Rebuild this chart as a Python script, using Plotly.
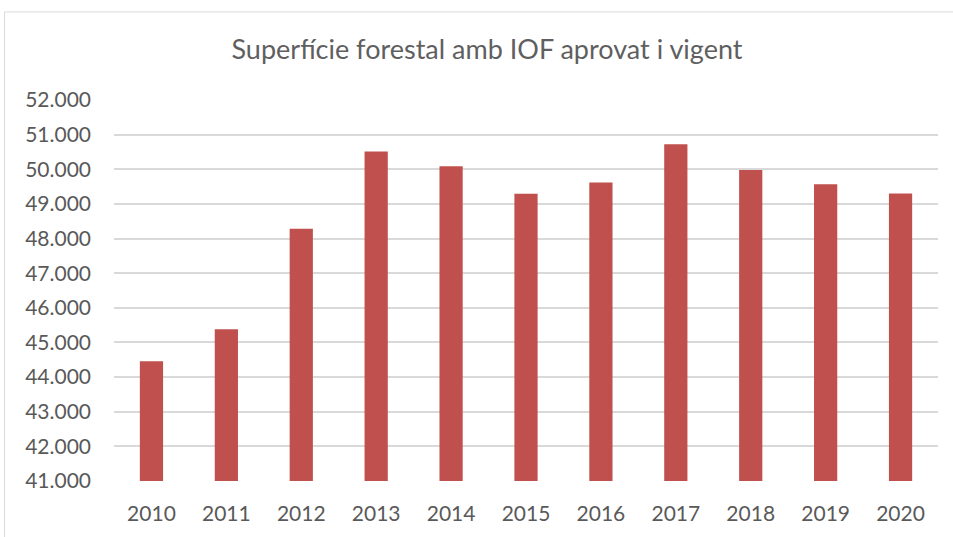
import plotly.graph_objects as go

years = ["2010", "2011", "2012", "2013", "2014", "2015", "2016", "2017", "2018", "2019", "2020"]
values = [44460, 45380, 48280, 50510, 50090, 49290, 49620, 50720, 49980, 49570, 49300]
title_text = "Superfície forestal amb IOF aprovat i vigent"

W, H = 953, 537
L, R, T, B = 114, 15, 100, 54
pw = W - L - R
ph = H - T - B

def px_to_paper_x(px):
    return (px - L) / pw

def px_to_paper_y(py):
    return (H - B - py) / ph

fig = go.Figure(go.Bar(
    x=years, y=values,
    marker=dict(color="#c0504d", line=dict(width=0)),
    width=0.31,
))

fig.update_layout(
    width=W, height=H,
    margin=dict(l=L, r=R, t=T, b=B),
    paper_bgcolor="white", plot_bgcolor="white",
    separators=",.",
    showlegend=False,
    title=dict(text=title_text, x=0.511, xanchor="center", y=1 - 50 / H, yanchor="middle",
               font=dict(family="Lato", size=27, color="#5f5f5f")),
    font=dict(family="Lato", color="#595959"),
    shapes=[dict(type="rect", xref="paper", yref="paper",
                 x0=px_to_paper_x(4.5), x1=px_to_paper_x(970),
                 y0=px_to_paper_y(560), y1=px_to_paper_y(11.5),
                 line=dict(color="#d9d9d9", width=1), fillcolor="rgba(0,0,0,0)", layer="below")],
)
fig.update_yaxes(range=[41000, 52000], dtick=1000, tickformat=",.0f",
                 showgrid=True, gridcolor="#d9d9d9", gridwidth=1.5,
                 zeroline=False, showline=False, ticks="",
                 ticklabelstandoff=22,
                 tickfont=dict(family="Lato", size=21, color="#595959"))
fig.update_xaxes(showgrid=False, showline=False, ticks="",
                 ticklabelstandoff=18,
                 tickfont=dict(family="Lato", size=21, color="#595959"))

fig.write_html("out.html", config={"displayModeBar": False},
               post_script="document.body.style.margin='0';")
